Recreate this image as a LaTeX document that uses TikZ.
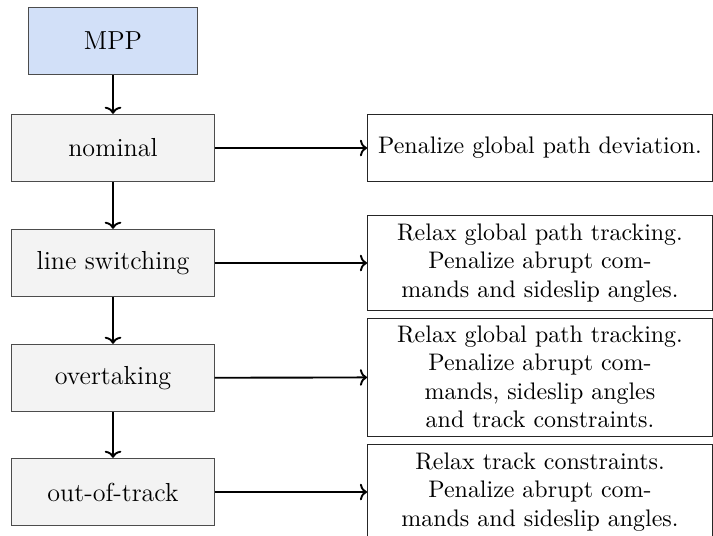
\documentclass[tikz,border=0pt]{standalone}
\usetikzlibrary{arrows.meta}
\definecolor{modefill}{HTML}{F3F3F3}
\definecolor{plannerfill}{HTML}{D2E0F8}
\begin{document}
\begin{tikzpicture}[x=0.4219pt,y=-0.4219pt,
  mode/.style={draw=black!70,fill=modefill,minimum width=3cm,minimum height=1cm,inner sep=3.333pt,
    font=\fontsize{11}{13.2}\selectfont},
  planner/.style={mode,fill=plannerfill,minimum width=2.5cm},
  cost/.style={draw=black!85,fill=white,align=center,inner sep=3.333pt,anchor=west,
    minimum width=345*0.4219pt,minimum height=1cm,font=\fontsize{10.1}{12}\selectfont},
  link/.style={thick,-{To[length=3pt,width=7pt]}}]
  \useasboundingbox (0,0) rectangle (713,535);
  % operating modes of the planner
  \node[planner] (mpp) at (113,41) {MPP};
  \node[mode] (nom) at (113,148) {nominal};
  \node[mode] (sw) at (113,263) {line switching};
  \node[mode] (ov) at (113,378) {overtaking};
  \node[mode] (oot) at (113,492) {out-of-track};
  % cost terms active in each mode
  \node[cost] (cnom) at (367,148) {Penalize global path deviation.};
  \node[cost] (csw) at (367,263) {Relax global path tracking.\\Penalize abrupt com-\\mands and sideslip angles.};
  \node[cost] (cov) at (367,377) {Relax global path tracking.\\Penalize abrupt com-\\mands, sideslip angles\\and track constraints.};
  \node[cost] (coot) at (367,492) {Relax track constraints.\\Penalize abrupt com-\\mands and sideslip angles.};
  % mode sequence
  \draw[link] (mpp) -- (nom);
  \draw[link] (nom) -- (sw);
  \draw[link] (sw) -- (ov);
  \draw[link] (ov) -- (oot);
  % mode to cost
  \draw[link] (nom) -- (cnom);
  \draw[link] (sw) -- (csw);
  \draw[link] (ov) -- (cov);
  \draw[link] (oot) -- (coot);
\end{tikzpicture}
\end{document}
